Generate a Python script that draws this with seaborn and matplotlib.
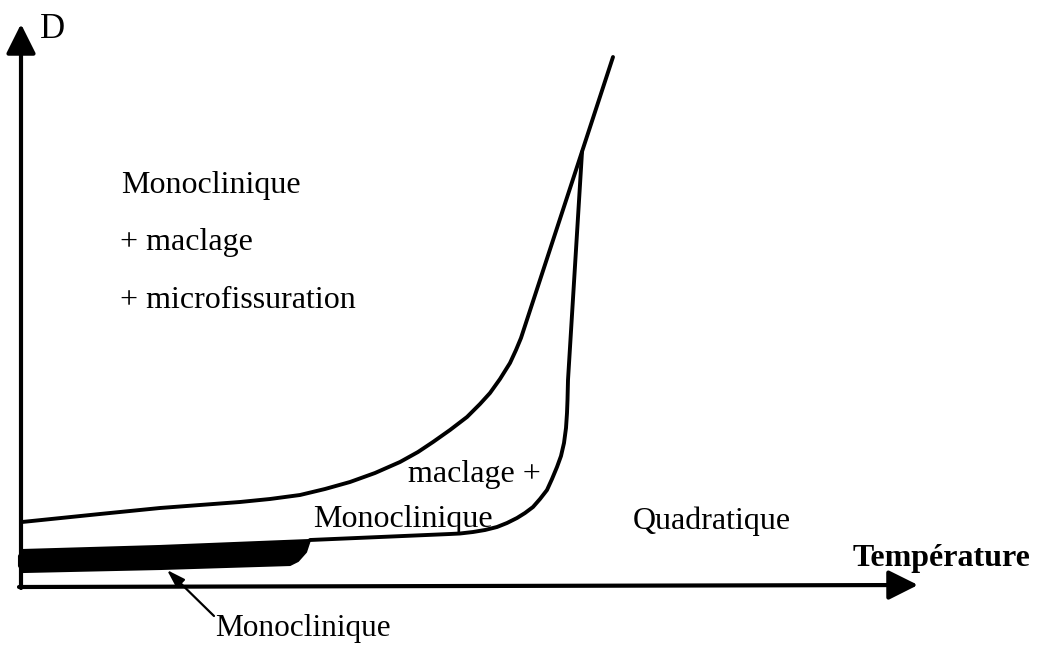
import numpy as np
import pandas as pd
import seaborn as sns
import matplotlib.pyplot as plt

# schematic phase diagram, coordinates (pixel space, y down)
upper_x = [22, 100, 160, 200, 240, 270, 300, 325, 350, 375, 400, 418, 433,
           450, 467, 480, 490, 500, 510, 516, 521, 613]
upper_y = [522, 514, 508, 505, 502, 499, 495, 489, 482, 473, 462, 452, 442,
           430, 417, 404, 393, 379, 363, 350, 338, 57]

right_x = [582, 568, 567.5, 567, 566, 564, 561, 557, 552, 547, 540, 533, 525,
           517, 507, 497, 485, 473, 460, 450, 415, 380, 310]
right_y = [152, 380, 400, 413, 428, 443, 456, 467, 479, 490, 499, 507, 513,
           518, 523, 527, 530, 532, 533.5, 534, 535.5, 537, 540]

band_x = [23, 160, 310, 306, 298, 290, 160, 23, 19, 19]
band_y = [550, 546, 540, 552, 561, 565, 569, 572, 566, 556]

labels = ["Monoclinique", "+ maclage", "+ microfissuration",
          "maclage +", "Monoclinique", "Quadratique"]
label_x = [121, 120, 120, 408, 313, 633]
label_y = [193, 250, 308, 482, 527, 529]

sns.set_style("white")
plt.rcParams['font.family'] = ['Liberation Serif', 'DejaVu Serif']
plt.rcParams['text.color'] = 'black'

fig = plt.figure(figsize=(10.37, 6.45), dpi=100)
ax = fig.add_axes([0, 0, 1, 1])
ax.set_xlim(0, 1037)
ax.set_ylim(645, 0)
ax.axis('off')

curves = pd.DataFrame({'x': upper_x + right_x,
                       'y': upper_y + right_y,
                       'c': ['up'] * len(upper_x) + ['right'] * len(right_x)})
sns.lineplot(data=curves, x='x', y='y', units='c', estimator=None, sort=False,
             color='black', lw=2.8, ax=ax, legend=False)
for ln in ax.get_lines():
    ln.set_solid_joinstyle('round')
    ln.set_solid_capstyle('round')
ax.fill(band_x, band_y, color='black', lw=1.5, ec='black', joinstyle='round')

# axes arrows
head = '-|>,head_length=1.8,head_width=0.9'
ax.annotate('', xy=(21, 24), xytext=(21, 588),
            arrowprops=dict(arrowstyle=head, lw=3, color='black',
                            shrinkA=0, shrinkB=0))
ax.annotate('', xy=(918, 585), xytext=(19, 587),
            arrowprops=dict(arrowstyle=head, lw=3, color='black',
                            shrinkA=0, shrinkB=0))

ax.text(40, 38, 'D', fontsize=25, va='baseline', ha='left', color='black')
ax.text(853, 566, 'Température', fontsize=23, fontweight='bold',
        va='baseline', ha='left', color='black')

for t, x, y in zip(labels, label_x, label_y):
    ax.text(x, y, t, fontsize=23, va='baseline', ha='left', color='black')

ax.annotate('', xy=(167, 570), xytext=(214, 616),
            arrowprops=dict(arrowstyle='-|>,head_length=1.1,head_width=0.35',
                            lw=1.6, color='black', shrinkA=0, shrinkB=0))
ax.text(215, 636, 'Monoclinique', fontsize=22.5, va='baseline', ha='left',
        color='black')

fig.savefig('out.png', dpi=100, facecolor='white')
